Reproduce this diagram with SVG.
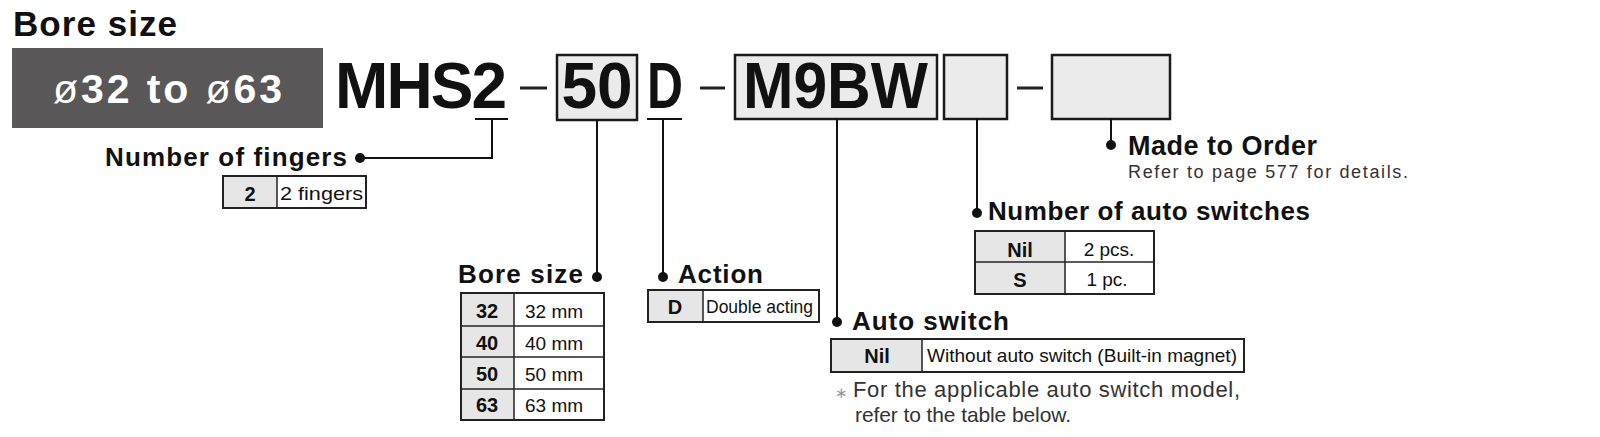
<svg xmlns="http://www.w3.org/2000/svg" width="1600" height="437" viewBox="0 0 1600 437">
<style>
text{font-family:"Liberation Sans",Arial,sans-serif;fill:#111}
.b{font-weight:bold}
.code{font-size:64px;font-weight:bold}
.lbl{font-size:26px;font-weight:bold}
.box{fill:#ebebeb;stroke:#1a1a1a;stroke-width:2.5}
.tbl{fill:#fff;stroke:#222;stroke-width:2}
.key{fill:#e6e6e6}
.div{stroke:#222;stroke-width:1.5}
.ck{font-size:20px;font-weight:bold;text-anchor:middle}
.cv{font-size:19px}
.con{fill:none;stroke:#111;stroke-width:2}
.dot{fill:#111}
.note{fill:#333}
</style>
<rect width="1600" height="437" fill="#fff"/>
<g id="title">
<text x="13" y="36" class="b" font-size="35" textLength="164">Bore size</text>
<rect x="12" y="48" width="311" height="80" fill="#595757"/>
<text x="53" y="103" class="b" font-size="41" textLength="229" style="fill:#fff"><tspan font-weight="normal">ø</tspan>32 to <tspan font-weight="normal">ø</tspan>63</text>
</g>
<g id="model">
<text x="335" y="108" class="code" textLength="172">MHS2</text>
<rect x="520" y="86.5" width="27" height="3" fill="#222"/>
<rect x="557" y="55" width="80" height="65" class="box"/>
<text x="597" y="108" class="code" text-anchor="middle" textLength="71">50</text>
<text x="647" y="108" class="code" textLength="36" lengthAdjust="spacingAndGlyphs">D</text>
<rect x="700" y="86.5" width="25" height="3" fill="#222"/>
<rect x="735" y="55" width="202" height="64" class="box"/>
<text x="743" y="108" class="code" textLength="185" lengthAdjust="spacingAndGlyphs">M9BW</text>
<rect x="944" y="55" width="63" height="64" class="box"/>
<rect x="1017" y="86.5" width="26" height="3" fill="#222"/>
<rect x="1052" y="55" width="118" height="64" class="box"/>
</g>
<g id="connectors">
<line x1="475" y1="119" x2="508" y2="119" class="con" stroke-width="2.5"/>
<polyline points="492,119 492,158 360,158" class="con"/>
<circle cx="360" cy="158" r="5" class="dot"/>
<polyline points="597,120 597,277" class="con"/>
<circle cx="597" cy="277" r="5" class="dot"/>
<line x1="647" y1="119" x2="682" y2="119" class="con" stroke-width="2.5"/>
<polyline points="663,119 663,277" class="con"/>
<circle cx="663" cy="277" r="5" class="dot"/>
<polyline points="837,119 837,322" class="con"/>
<circle cx="837" cy="322" r="5" class="dot"/>
<polyline points="977,119 977,213" class="con"/>
<circle cx="977" cy="213" r="5" class="dot"/>
<polyline points="1111,119 1111,145" class="con"/>
<circle cx="1111" cy="145" r="5" class="dot"/>
</g>
<g id="fingers">
<text x="105" y="166" class="lbl" textLength="242">Number of fingers</text>
<rect x="223" y="176" width="143" height="32" class="tbl"/>
<rect x="224" y="177" width="53" height="30" class="key"/>
<line x1="277" y1="176" x2="277" y2="208" class="div"/>
<text x="250" y="201" class="ck">2</text>
<text x="280" y="200" class="cv" textLength="83" lengthAdjust="spacingAndGlyphs">2 fingers</text>
</g>
<g id="bore">
<text x="458" y="283" class="lbl" textLength="125">Bore size</text>
<rect x="461" y="293" width="143" height="127" class="tbl"/>
<rect x="462" y="294" width="52" height="125" class="key"/>
<line x1="514" y1="293" x2="514" y2="420" class="div"/>
<line x1="461" y1="326" x2="604" y2="326" class="div"/>
<line x1="461" y1="357" x2="604" y2="357" class="div"/>
<line x1="461" y1="389" x2="604" y2="389" class="div"/>
<text x="487" y="318" class="ck" font-size="21">32</text>
<text x="487" y="350" class="ck" font-size="21">40</text>
<text x="487" y="381" class="ck" font-size="21">50</text>
<text x="487" y="412" class="ck" font-size="21">63</text>
<text x="525" y="318" class="cv" font-size="22">32 mm</text>
<text x="525" y="350" class="cv" font-size="22">40 mm</text>
<text x="525" y="381" class="cv" font-size="22">50 mm</text>
<text x="525" y="412" class="cv" font-size="22">63 mm</text>
</g>
<g id="action">
<text x="678" y="283" class="lbl" textLength="85">Action</text>
<rect x="648" y="290" width="171" height="32" class="tbl"/>
<rect x="649" y="291" width="54" height="30" class="key"/>
<line x1="703" y1="290" x2="703" y2="322" class="div"/>
<text x="675" y="314" class="ck">D</text>
<text x="706" y="313" class="cv" textLength="107" lengthAdjust="spacingAndGlyphs">Double acting</text>
</g>
<g id="autoswitch">
<text x="852" y="330" class="lbl" textLength="157">Auto switch</text>
<rect x="831" y="339" width="413" height="33" class="tbl"/>
<rect x="832" y="340" width="90" height="31" class="key"/>
<line x1="922" y1="339" x2="922" y2="372" class="div"/>
<text x="877" y="363" class="ck">Nil</text>
<text x="927" y="362" class="cv" textLength="310" lengthAdjust="spacingAndGlyphs">Without auto switch (Built-in magnet)</text>
<text x="835" y="398" font-size="15" style="fill:#999">∗</text>
<text x="853" y="397" font-size="22" class="note" textLength="387">For the applicable auto switch model,</text>
<text x="855" y="422" font-size="21" class="note" textLength="216">refer to the table below.</text>
</g>
<g id="numswitches">
<text x="988" y="220" class="lbl" textLength="322">Number of auto switches</text>
<rect x="975" y="231" width="179" height="63" class="tbl"/>
<rect x="976" y="232" width="89" height="61" class="key"/>
<line x1="1065" y1="231" x2="1065" y2="294" class="div"/>
<line x1="975" y1="262" x2="1154" y2="262" class="div"/>
<text x="1020" y="257" class="ck">Nil</text>
<text x="1020" y="287" class="ck">S</text>
<text x="1109" y="256" class="cv" text-anchor="middle">2 pcs.</text>
<text x="1107" y="286" class="cv" text-anchor="middle">1 pc.</text>
</g>
<g id="mto">
<text x="1128" y="155" class="b" font-size="27" textLength="189">Made to Order</text>
<text x="1128" y="178" font-size="18" class="note" textLength="280">Refer to page 577 for details.</text>
</g>
</svg>
